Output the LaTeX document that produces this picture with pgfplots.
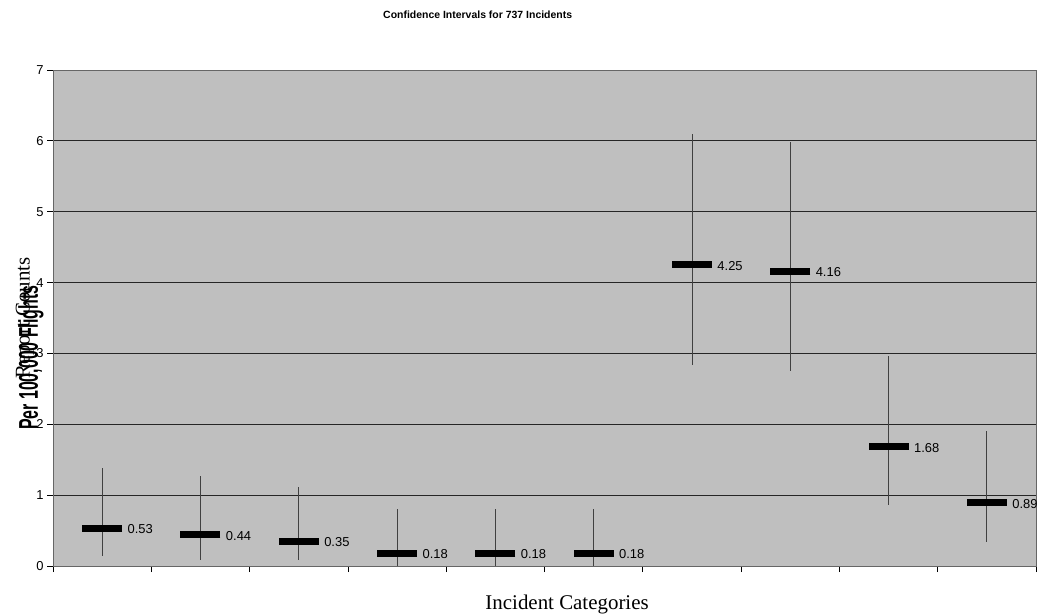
\documentclass[border=0pt]{standalone}
\usepackage{pgfplots}
\usepackage{pgfplotstable}
\pgfplotsset{compat=1.18}
\usepackage{fontspec}
\setmainfont{Liberation Sans}
\newfontfamily\seriffont{Liberation Serif}

\pgfplotstableread{
x y ep em
1 0.53 0.86 0.39
2 0.44 0.83 0.35
3 0.35 0.77 0.27
4 0.18 0.63 0.18
5 0.18 0.63 0.18
6 0.18 0.63 0.18
7 4.25 1.84 1.42
8 4.16 1.83 1.41
9 1.68 1.29 0.82
10 0.89 1.02 0.55
}\data

\begin{document}
\begin{tikzpicture}
\begin{axis}[
  scale only axis,
  width=983bp, height=496bp,
  xmin=0.5, xmax=10.5, ymin=0, ymax=7,
  xtick={0.5,1.5,...,10.5}, xticklabels={},
  ytick={0,1,...,7},
  xtick pos=bottom, ytick pos=left,
  tick align=outside, major tick length=6bp,
  tick style={black, line width=0.8bp},
  ymajorgrids, grid style={black!85, line width=0.8bp},
  axis background/.style={fill=black!25},
  axis line style={black!60, line width=0.9bp},
  x axis line style={black},
  /pgf/number format/assume math mode=true,
  yticklabel style={font=\fontsize{13}{13}\selectfont},
  clip=false,
]
\addplot[only marks, mark=-, mark size=20bp,
  mark options={line width=7bp, black},
  error bars/.cd, y dir=both, y explicit,
  error bar style={line width=0.8bp, black!75},
  error mark=none]
  table[x=x, y=y, y error plus=ep, y error minus=em]{\data};
\addplot[only marks, mark=none,
  nodes near coords,
  nodes near coords style={anchor=west, xshift=22bp, yshift=-1bp,
    font=\fontsize{13}{13}\selectfont,
    /pgf/number format/.cd, fixed, precision=2, zerofill, assume math mode=true}]
  table[x=x, y=y]{\data};
\coordinate (bl) at (rel axis cs:0,0);
\coordinate (tr) at (rel axis cs:1,1);
\node[font=\fontsize{10.5}{10.5}\selectfont\bfseries] at (rel axis cs:0.432,1) [yshift=55bp] {Confidence Intervals for 737 Incidents};
\node[font=\fontsize{21}{21}\selectfont\seriffont] at (rel axis cs:0.523,0) [yshift=-38bp] {Incident Categories};
\node[font=\fontsize{16}{16}\selectfont\bfseries, rotate=90] at ([xshift=-22bp]rel axis cs:0,0.42) {\scalebox{1.0}[1.7]{Per 100,000 Flights}};
\node[font=\fontsize{21}{21}\selectfont\seriffont, rotate=90] at ([xshift=-28bp]rel axis cs:0,0.5) {Report Counts};
\end{axis}
\pgfresetboundingbox
\path[use as bounding box] ([xshift=-53bp,yshift=-50bp]bl) rectangle ([xshift=3bp,yshift=70bp]tr);
\end{tikzpicture}
\end{document}
